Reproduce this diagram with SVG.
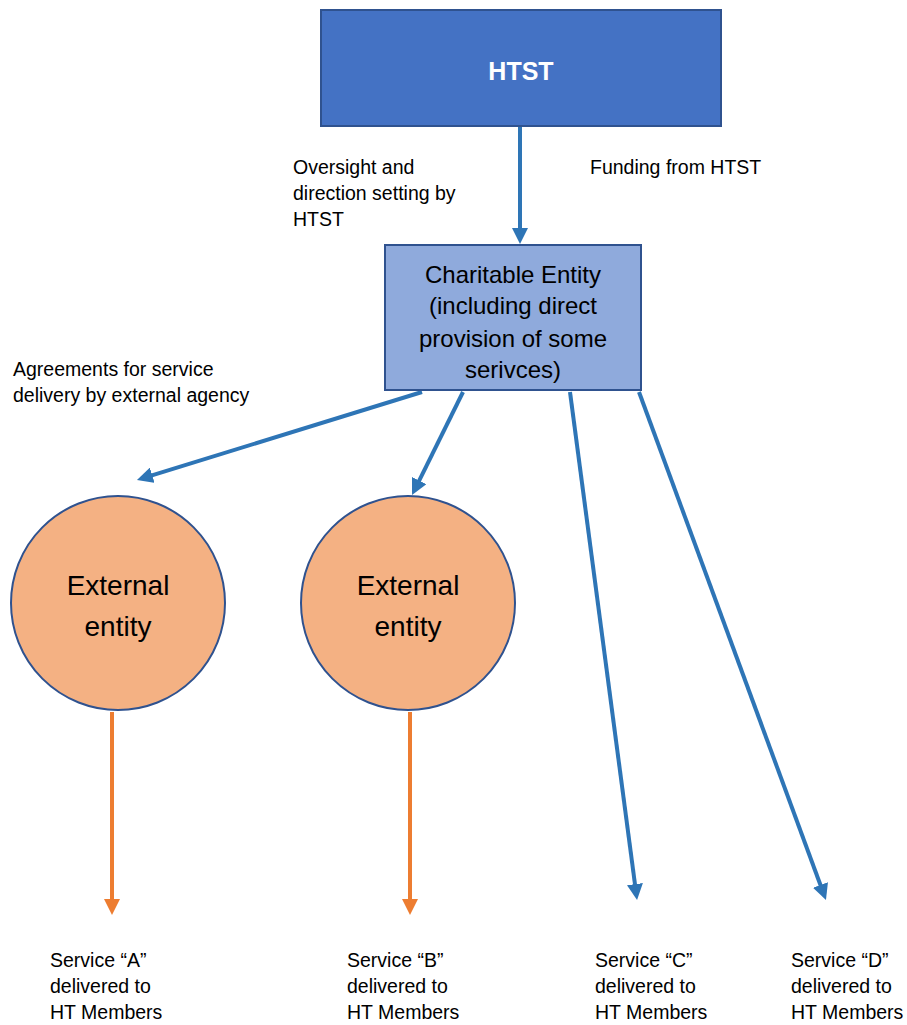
<svg xmlns="http://www.w3.org/2000/svg" width="907" height="1025" viewBox="0 0 907 1025">
  <style>
    .lbl { font-family: "Liberation Sans", Arial, sans-serif; font-size: 19.5px; fill: #000; }
    .box-txt { font-family: "Liberation Sans", Arial, sans-serif; font-size: 24px; fill: #000; text-anchor: middle; }
    .circ-txt { font-family: "Liberation Sans", Arial, sans-serif; font-size: 28px; fill: #000; text-anchor: middle; }
    .title { font-family: "Liberation Sans", Arial, sans-serif; font-size: 25px; font-weight: bold; fill: #fff; text-anchor: middle; }
    .blue { stroke: #2E75B6; stroke-width: 4; fill: none; marker-end: url(#headBlue); }
    .orange { stroke: #ED7D31; stroke-width: 4; fill: none; marker-end: url(#headOrange); }
  </style>
  <defs>
    <marker id="headBlue" viewBox="0 0 16 16" refX="8" refY="8" markerWidth="16" markerHeight="16" markerUnits="userSpaceOnUse" orient="auto">
      <path d="M0,0 L16,8 L0,16 z" fill="#2E75B6"/>
    </marker>
    <marker id="headOrange" viewBox="0 0 16 16" refX="8" refY="8" markerWidth="16" markerHeight="16" markerUnits="userSpaceOnUse" orient="auto">
      <path d="M0,0 L16,8 L0,16 z" fill="#ED7D31"/>
    </marker>
  </defs>
  <rect width="907" height="1025" fill="#fff"/>

  <g id="connectors">
    <line class="blue" x1="520" y1="126" x2="520" y2="236"/>
    <line class="blue" x1="422" y1="392" x2="144.6" y2="477.6"/>
    <line class="blue" x1="463" y1="392" x2="415.6" y2="487.8"/>
    <line class="blue" x1="570" y1="392" x2="636" y2="892.1"/>
    <line class="blue" x1="639" y1="392" x2="823.2" y2="892.5"/>
    <line class="orange" x1="112" y1="712" x2="112" y2="907"/>
    <line class="orange" x1="410" y1="712" x2="410" y2="907"/>
  </g>

  <g id="htst">
    <rect x="321" y="10" width="400" height="116" fill="#4472C4" stroke="#2F528F" stroke-width="2"/>
    <text class="title" x="521" y="80">HTST</text>
  </g>

  <g id="charitable-entity">
    <rect x="385" y="245" width="256" height="145" fill="#8FAADC" stroke="#2F528F" stroke-width="2"/>
    <text class="box-txt" x="513" y="283">Charitable Entity</text>
    <text class="box-txt" x="513" y="314">(including direct</text>
    <text class="box-txt" x="513" y="347">provision of some</text>
    <text class="box-txt" x="513" y="378">serivces)</text>
  </g>

  <g id="external-entity-1">
    <circle cx="118" cy="603" r="107" fill="#F4B183" stroke="#2F528F" stroke-width="2"/>
    <text class="circ-txt" x="118" y="595">External</text>
    <text class="circ-txt" x="118" y="636">entity</text>
  </g>

  <g id="external-entity-2">
    <circle cx="408" cy="603" r="107" fill="#F4B183" stroke="#2F528F" stroke-width="2"/>
    <text class="circ-txt" x="408" y="595">External</text>
    <text class="circ-txt" x="408" y="636">entity</text>
  </g>

  <g id="label-oversight">
    <text class="lbl" x="293" y="174">Oversight and</text>
    <text class="lbl" x="293" y="200">direction setting by</text>
    <text class="lbl" x="293" y="226">HTST</text>
  </g>

  <g id="label-funding">
    <text class="lbl" x="590" y="174">Funding from HTST</text>
  </g>

  <g id="label-agreements">
    <text class="lbl" x="13" y="376">Agreements for service</text>
    <text class="lbl" x="13" y="402">delivery by external agency</text>
  </g>

  <g id="service-a">
    <text class="lbl" x="50" y="967">Service “A”</text>
    <text class="lbl" x="50" y="993">delivered to</text>
    <text class="lbl" x="50" y="1019">HT Members</text>
  </g>

  <g id="service-b">
    <text class="lbl" x="347" y="967">Service “B”</text>
    <text class="lbl" x="347" y="993">delivered to</text>
    <text class="lbl" x="347" y="1019">HT Members</text>
  </g>

  <g id="service-c">
    <text class="lbl" x="595" y="967">Service “C”</text>
    <text class="lbl" x="595" y="993">delivered to</text>
    <text class="lbl" x="595" y="1019">HT Members</text>
  </g>

  <g id="service-d">
    <text class="lbl" x="791" y="967">Service “D”</text>
    <text class="lbl" x="791" y="993">delivered to</text>
    <text class="lbl" x="791" y="1019">HT Members</text>
  </g>
</svg>
